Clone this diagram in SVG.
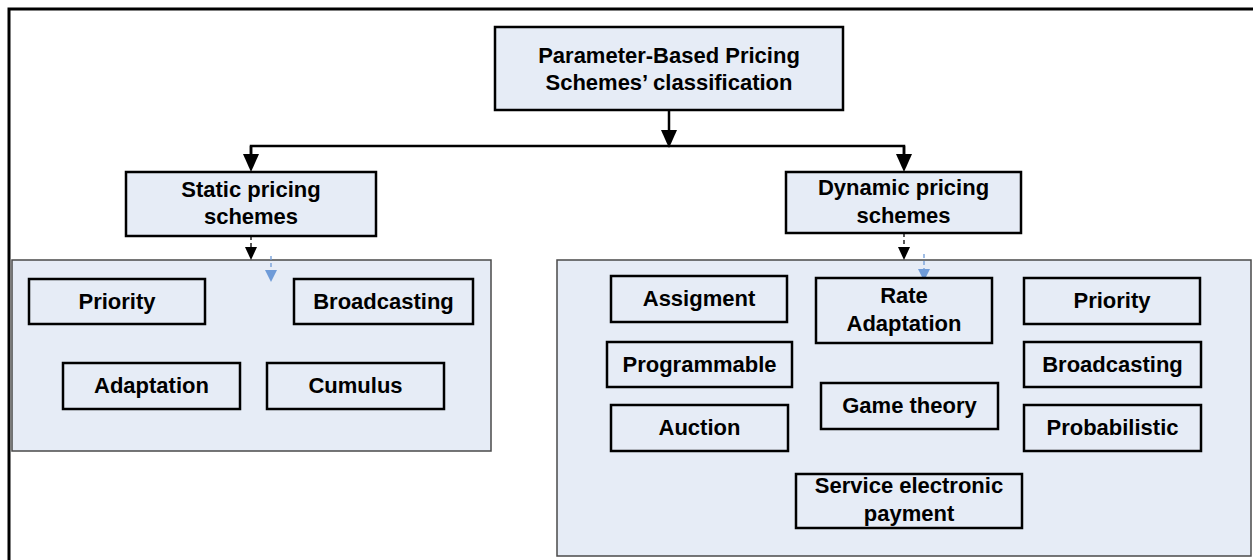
<svg xmlns="http://www.w3.org/2000/svg" width="1253" height="560" viewBox="0 0 1253 560">
<style>
.node rect{fill:#E6ECF6;stroke:#000;stroke-width:2.5}
.cont{fill:#E6ECF6;stroke:#4a4a4a;stroke-width:1.5}
text{font-family:"Liberation Sans",Arial,sans-serif;font-weight:bold;font-size:22px;fill:#000;text-anchor:middle}
.solid{fill:none;stroke:#000;stroke-width:2.5}
.dash{fill:none;stroke:#000;stroke-width:1.3;stroke-dasharray:4 3}
.blue{fill:none;stroke:#6F9BD8;stroke-width:1.3;stroke-dasharray:4 3}
</style>
<defs>
<marker id="ah" markerUnits="userSpaceOnUse" markerWidth="18" markerHeight="16" refX="0" refY="8" orient="auto"><path d="M0,0 L18,8 L0,16 z" fill="#000"/></marker>
<marker id="ahs" markerUnits="userSpaceOnUse" markerWidth="13" markerHeight="12" refX="0" refY="6" orient="auto"><path d="M0,0 L13,6 L0,12 z" fill="#000"/></marker>
<marker id="ahb" markerUnits="userSpaceOnUse" markerWidth="12" markerHeight="12" refX="0" refY="6" orient="auto"><path d="M0,0 L12,6 L0,12 z" fill="#6F9BD8"/></marker>
</defs>
<rect width="1253" height="560" fill="#fff"/>
<path d="M9,562 L9,9 L1256,9" fill="none" stroke="#000" stroke-width="3"/>
<rect id="static-container" class="cont" x="12" y="260" width="479" height="191"/>
<rect id="dynamic-container" class="cont" x="557" y="260" width="694" height="296"/>
<g id="connectors">
<path class="solid" d="M669,110 L669,130" marker-end="url(#ah)"/>
<path class="solid" d="M251,154 L251,146 L904,146 L904,154" />
<path class="solid" d="M251,146 L251,154" marker-end="url(#ah)"/>
<path class="solid" d="M904,146 L904,154" marker-end="url(#ah)"/>
<path class="dash" d="M251,236 L251,247" marker-end="url(#ahs)"/>
<path class="dash" d="M904,233 L904,247" marker-end="url(#ahs)"/>
<path class="blue" d="M271,256 L271,270" marker-end="url(#ahb)"/>
<path class="blue" d="M924,254 L924,269" marker-end="url(#ahb)"/>
</g>
<g id="root" class="node"><rect x="495" y="27" width="348" height="83"/><text x="669" y="63">Parameter-Based Pricing</text><text x="669" y="90">Schemes’ classification</text></g>
<g id="static" class="node"><rect x="126" y="172" width="250" height="64"/><text x="251" y="197">Static pricing</text><text x="251" y="224">schemes</text></g>
<g id="dynamic" class="node"><rect x="786" y="172" width="235" height="61"/><text x="903.5" y="195">Dynamic pricing</text><text x="903.5" y="223">schemes</text></g>
<g id="s-priority" class="node"><rect x="29" y="279" width="176" height="45"/><text x="117" y="309">Priority</text></g>
<g id="s-broadcasting" class="node"><rect x="294" y="279" width="179" height="45"/><text x="383.5" y="309">Broadcasting</text></g>
<g id="s-adaptation" class="node"><rect x="63" y="363" width="177" height="46"/><text x="151.5" y="393">Adaptation</text></g>
<g id="s-cumulus" class="node"><rect x="267" y="363" width="177" height="46"/><text x="355.5" y="393">Cumulus</text></g>
<g id="d-assigment" class="node"><rect x="611" y="276" width="176" height="46"/><text x="699" y="306">Assigment</text></g>
<g id="d-rate" class="node"><rect x="816" y="278" width="176" height="65"/><text x="904" y="303">Rate</text><text x="904" y="331">Adaptation</text></g>
<g id="d-priority" class="node"><rect x="1024" y="278" width="176" height="46"/><text x="1112" y="308">Priority</text></g>
<g id="d-programmable" class="node"><rect x="607" y="342" width="185" height="45"/><text x="699.5" y="372">Programmable</text></g>
<g id="d-broadcasting" class="node"><rect x="1024" y="342" width="177" height="45"/><text x="1112.5" y="372">Broadcasting</text></g>
<g id="d-game" class="node"><rect x="821" y="383" width="177" height="46"/><text x="909.5" y="413">Game theory</text></g>
<g id="d-auction" class="node"><rect x="611" y="405" width="177" height="46"/><text x="699.5" y="435">Auction</text></g>
<g id="d-probabilistic" class="node"><rect x="1024" y="405" width="177" height="46"/><text x="1112.5" y="435">Probabilistic</text></g>
<g id="d-service" class="node"><rect x="796" y="474" width="226" height="54"/><text x="909" y="493">Service electronic</text><text x="909" y="521">payment</text></g>
</svg>
